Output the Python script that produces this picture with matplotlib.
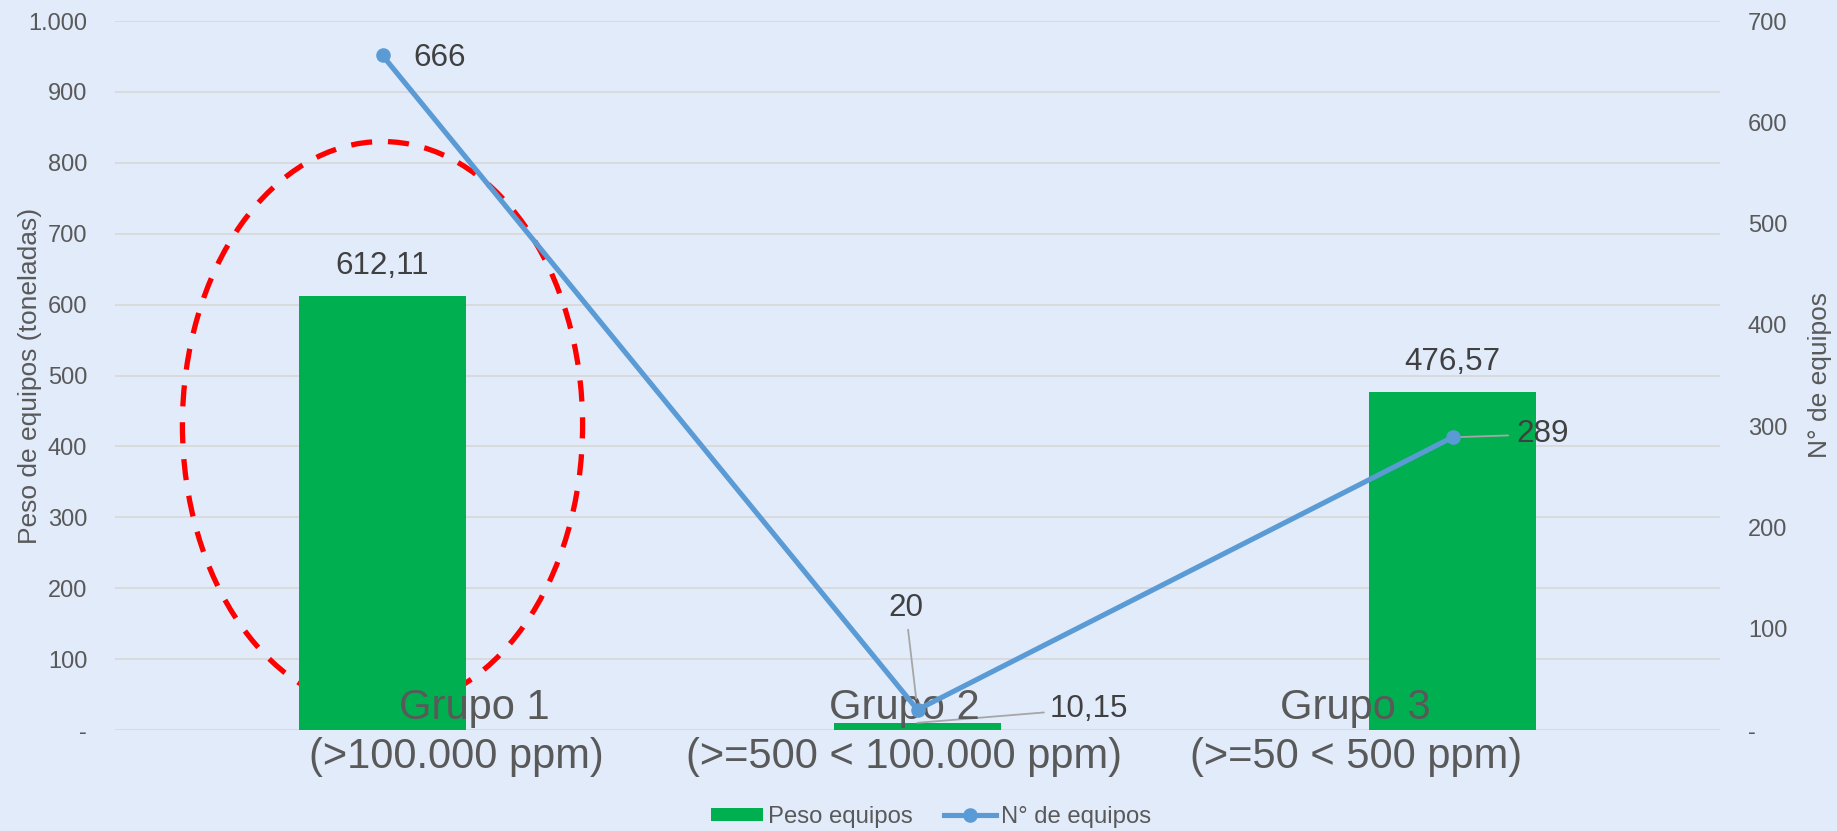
import matplotlib
matplotlib.use("Agg")
import matplotlib.pyplot as plt
from matplotlib.patches import Ellipse
from matplotlib.ticker import FuncFormatter, MultipleLocator
from matplotlib.lines import Line2D
from matplotlib.patches import Patch

plt.rcParams['font.family'] = ['Liberation Sans', 'DejaVu Sans']

# ---- data ----
group_names = ["Grupo 1", "Grupo 2", "Grupo 3"]
group_ranges = ["(>100.000 ppm)", "(>=500 < 100.000 ppm)", "(>=50 < 500 ppm)"]
peso_equipos = [612.11, 10.15, 476.57]
peso_labels = ["612,11", "10,15", "476,57"]
n_equipos = [666, 20, 289]
n_labels = ["666", "20", "289"]

# label placement offsets (pixels) of the category texts, as in the original
name_dx = [92, -13, -97]
range_dx = [74, -14, -96]

BG = '#E1EBFA'
GREEN = '#00B050'
BLUE = '#5B9BD5'
GRID = '#D9D9D9'
TXT = '#595959'
LBL = '#404040'

fig = plt.figure(figsize=(18.37, 8.31), dpi=100, facecolor=BG)
ax = fig.add_axes([115/1837, 101/831, 1605/1837, 709/831])
ax.set_facecolor(BG)
ax2 = ax.twinx()

x = list(range(len(group_names)))

# bars
ax.bar(x, peso_equipos, width=0.314, color=GREEN, zorder=2)
ax.set_xlim(-0.5, 2.5)
ax.set_ylim(0, 1000)
ax.yaxis.set_major_locator(MultipleLocator(100))
fmt = FuncFormatter(lambda v, p: '-' if abs(v) < 1e-9 else f'{int(round(v)):,}'.replace(',', '.'))
ax.yaxis.set_major_formatter(fmt)
ax.grid(axis='y', color=GRID, linewidth=1.3, zorder=0)
ax.set_axisbelow(True)
ax.set_xticks([])
for s in ax.spines.values():
    s.set_visible(False)
ax.tick_params(axis='y', length=0, pad=20, labelsize=17, labelcolor=TXT)
ax.set_ylabel("Peso de equipos (toneladas)", fontsize=19, color=TXT)
ax.yaxis.set_label_coords(-0.053, 0.5)
ax.yaxis.label.set_va('center')

# highlight ellipse around group 1
ell = Ellipse((x[0], 430), width=0.748, height=800, fill=False, edgecolor='#FF0000',
              linewidth=3.8, linestyle=(0, (4, 3)), zorder=1)
ax.add_patch(ell)

# bar value labels
ax.annotate(peso_labels[0], (x[0], peso_equipos[0]), xytext=(0, 30), textcoords='offset pixels',
            ha='center', va='center', fontsize=22.6, color=LBL)
ax.annotate(peso_labels[2], (x[2], peso_equipos[2]), xytext=(0, 30), textcoords='offset pixels',
            ha='center', va='center', fontsize=22.6, color=LBL)
ax.annotate(peso_labels[1], (x[1], peso_equipos[1]), xytext=(132, 14), textcoords='offset pixels',
            ha='left', va='center', fontsize=22.6, color=LBL,
            arrowprops=dict(arrowstyle='-', color='#A6A6A6', lw=1.3, shrinkA=2, shrinkB=0))

# category labels
for xi, nm, rg, d1, d2 in zip(x, group_names, group_ranges, name_dx, range_dx):
    ax.annotate(nm, (xi, 0), xycoords=('data', 'axes fraction'), xytext=(d1, 11),
                textcoords='offset pixels', ha='center', va='baseline', fontsize=30,
                color=TXT, zorder=3, annotation_clip=False)
    ax.annotate(rg, (xi, 0), xycoords=('data', 'axes fraction'), xytext=(d2, -38),
                textcoords='offset pixels', ha='center', va='baseline', fontsize=30,
                color=TXT, zorder=3, annotation_clip=False)

# line on secondary axis
ax2.plot(x, n_equipos, color=BLUE, linewidth=3.7, marker='o', markersize=10.5,
         markeredgewidth=0, zorder=4)
ax2.set_ylim(0, 700)
ax2.yaxis.set_major_locator(MultipleLocator(100))
ax2.yaxis.set_major_formatter(fmt)
for s in ax2.spines.values():
    s.set_visible(False)
ax2.tick_params(axis='y', length=0, pad=20, labelsize=17, labelcolor=TXT)
ax2.set_ylabel("N° de equipos", fontsize=19, color=TXT, rotation=90)
ax2.yaxis.set_label_coords(1.0625, 0.5)
ax2.yaxis.label.set_va('center')

ax2.annotate(n_labels[0], (x[0], n_equipos[0]), xytext=(31, -3), textcoords='offset pixels',
             ha='left', va='center', fontsize=22.6, color=LBL)
ax2.annotate(n_labels[1], (x[1], n_equipos[1]), xytext=(-12, 102), textcoords='offset pixels',
             ha='center', va='center', fontsize=22.6, color=LBL,
             arrowprops=dict(arrowstyle='-', color='#A6A6A6', lw=1.3, shrinkA=3, shrinkB=8))
ax2.annotate(n_labels[2], (x[2], n_equipos[2]), xytext=(64, 3), textcoords='offset pixels',
             ha='left', va='center', fontsize=22.6, color=LBL,
             arrowprops=dict(arrowstyle='-', color='#A6A6A6', lw=1.3, shrinkA=4, shrinkB=0))

# legend
handles = [Patch(facecolor=GREEN, edgecolor='none', label='Peso equipos'),
           Line2D([0], [0], color=BLUE, lw=3.7, marker='o', markersize=10.5,
                  markeredgewidth=0, label='N° de equipos')]
fig.legend(handles=handles, loc='center', bbox_to_anchor=(931/1837, 14/831), ncol=2,
           frameon=False, fontsize=17.2, labelcolor=TXT, handlelength=2.2,
           handleheight=0.5, handletextpad=0.2, columnspacing=1.3, borderpad=0)

fig.savefig('out.png', dpi=100, facecolor=BG)
